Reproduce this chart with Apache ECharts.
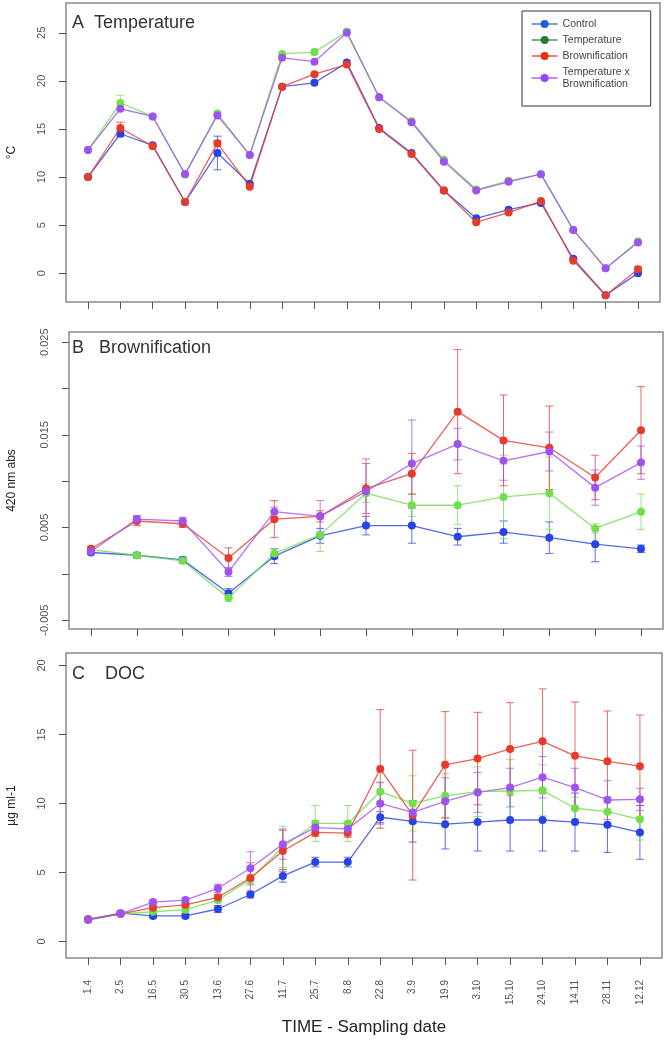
<!DOCTYPE html>
<html>
<head>
<meta charset="utf-8">
<script src="https://cdn.jsdelivr.net/npm/echarts@6/dist/echarts.min.js"></script>
<style>html,body{margin:0;padding:0;background:#fff}#c{width:667px;height:1045px}</style>
</head>
<body>
<div id="c"></div>
<script>
// ---------- DATA ----------
const dates = ['1.4','2.5','16.5','30.5','13.6','27.6','11.7','25.7','8.8','22.8','3.9','19.9','3.10','15.10','24.10','14.11','28.11','12.12'];
const absSamples = ['1','2','3','4','5','6','7','8','9','10','11','12','13'];
const groups = ['Control','Temperature','Brownification','Temperature x\nBrownification'];

// A: Temperature (°C)
const tempControl     = [10.0, 14.5, 13.3, 7.4, 12.5, 9.3, 19.4, 19.8, 21.9, 15.1, 12.5, 8.6, 5.7, 6.6, 7.3, 1.5, -2.3, 0.0];
const tempTemperature = [12.8, 17.7, 16.3, 10.3, 16.6, 12.3, 22.8, 23.0, 25.1, 18.3, 15.8, 11.8, 8.7, 9.6, 10.3, 4.5, 0.5, 3.3];
const tempBrown       = [10.0, 15.1, 13.2, 7.4, 13.5, 9.0, 19.4, 20.7, 21.7, 15.0, 12.4, 8.6, 5.3, 6.3, 7.5, 1.3, -2.3, 0.4];
const tempTxB         = [12.8, 17.1, 16.3, 10.3, 16.4, 12.3, 22.4, 22.0, 25.0, 18.3, 15.7, 11.6, 8.6, 9.5, 10.3, 4.5, 0.5, 3.2];
const tempErrControl     = [0, 0.3, 0, 0, 1.75, 0, 0, 0, 0, 0, 0, 0, 0, 0, 0, 0, 0, 0];
const tempErrTemperature = [0, 0.8, 0, 0, 0.2, 0, 0, 0.3, 0, 0, 0, 0, 0, 0, 0, 0, 0, 0];
const tempErrBrown       = [0, 0.6, 0, 0, 0.3, 0, 0, 0, 0, 0, 0, 0, 0, 0, 0, 0, 0, 0.3];
const tempErrTxB         = [0, 0, 0, 0, 0, 0, 0, 0, 0, 0, 0, 0, 0, 0, 0, 0, 0, 0];

// B: Brownification (420 nm abs)
const absControl     = [0.0023, 0.0020, 0.0015, -0.0021, 0.0019, 0.0041, 0.0052, 0.0052, 0.0040, 0.0045, 0.0039, 0.0032, 0.0027];
const absTemperature = [0.0026, 0.0020, 0.0014, -0.0026, 0.0022, 0.0042, 0.0087, 0.0074, 0.0074, 0.0083, 0.0087, 0.0049, 0.0067];
const absBrown       = [0.0027, 0.0057, 0.0054, 0.0017, 0.0059, 0.0062, 0.0092, 0.0108, 0.0175, 0.0144, 0.0136, 0.0104, 0.0155];
const absTxB         = [0.0024, 0.0059, 0.0057, 0.0002, 0.0067, 0.0062, 0.0089, 0.0119, 0.0140, 0.0122, 0.0132, 0.0093, 0.0120];
const absErrControl     = [0.0002, 0.0003, 0.0003, 0.0005, 0.0008, 0.0008, 0.0010, 0.0019, 0.0009, 0.0012, 0.0017, 0.0019, 0.0004];
const absErrTemperature = [0.0002, 0.0003, 0.0003, 0.0004, 0.0005, 0.0018, 0.0010, 0.0012, 0.0021, 0.0045, 0.0039, 0.0005, 0.0019];
const absErrBrown       = [0.0002, 0.0005, 0.0004, 0.0011, 0.0020, 0.0006, 0.0027, 0.0022, 0.0067, 0.0049, 0.0045, 0.0024, 0.0047];
const absErrTxB         = [0.0002, 0.0004, 0.0004, 0.0005, 0.0005, 0.0017, 0.0035, 0.0047, 0.0017, 0.0021, 0.0021, 0.0019, 0.0018];

// C: DOC (µg ml-1)
const docControl     = [1.6, 2.05, 1.85, 1.85, 2.35, 3.4, 4.75, 5.75, 5.75, 9.0, 8.7, 8.5, 8.65, 8.8, 8.8, 8.65, 8.45, 7.9];
const docTemperature = [1.6, 2.0, 2.15, 2.3, 3.0, 4.5, 6.85, 8.55, 8.55, 10.85, 10.0, 10.55, 10.85, 10.9, 10.95, 9.65, 9.4, 8.85];
const docBrown       = [1.6, 2.0, 2.45, 2.65, 3.2, 4.6, 6.55, 7.9, 7.85, 12.5, 9.15, 12.8, 13.25, 13.95, 14.5, 13.45, 13.05, 12.7];
const docTxB         = [1.55, 2.0, 2.85, 3.0, 3.85, 5.3, 7.05, 8.25, 8.15, 10.0, 9.35, 10.15, 10.8, 11.15, 11.9, 11.15, 10.25, 10.3];
const docErrControl     = [0.1, 0.15, 0.15, 0.15, 0.25, 0.25, 0.45, 0.35, 0.35, 0.4, 1.5, 1.8, 2.1, 2.25, 2.25, 2.1, 2.0, 1.95];
const docErrTemperature = [0.1, 0.1, 0.15, 0.15, 0.2, 0.3, 1.5, 1.3, 1.3, 0.7, 2.0, 1.6, 1.8, 2.3, 1.85, 0.8, 1.0, 1.5];
const docErrBrown       = [0.1, 0.1, 0.15, 0.15, 0.2, 1.1, 1.5, 0.3, 0.3, 4.3, 4.7, 3.85, 3.35, 3.35, 3.8, 3.9, 3.65, 3.7];
const docErrTxB         = [0.1, 0.1, 0.15, 0.15, 0.3, 1.2, 1.1, 0.5, 0.5, 1.5, 0.8, 1.7, 1.45, 1.4, 1.5, 1.4, 1.4, 0.8];

// ---------- STYLE ----------
const colors = ['#2743e6', '#6fdf4a', '#e63a2c', '#a052f0'];
const legendColors = ['#1a5fcf', '#1f7d2e', '#f02a12', '#9a42f7'];
const FONT = 'Liberation Sans, Arial, sans-serif';

const chart = echarts.init(document.getElementById('c'), null, {renderer: 'canvas'});

function lineSeries(idx, gi, values) {
  return {
    name: groups[gi], type: 'line', xAxisIndex: idx, yAxisIndex: idx,
    data: values.map((v, i) => [i + 1, v]),
    symbol: 'circle', symbolSize: 8,
    itemStyle: {color: colors[gi]},
    lineStyle: {color: colors[gi], width: 1.3, opacity: 0.8},
    z: 3 + gi, animation: false, silent: true
  };
}
function errSeries(idx, gi, values, errs) {
  const col = colors[gi];
  return {
    type: 'custom', xAxisIndex: idx, yAxisIndex: idx, silent: true, animation: false, z: 2,
    data: values.map((v, i) => [i + 1, v, errs[i]]).filter(d => d[2] > 0),
    encode: {x: 0, y: 1},
    renderItem: function (params, api) {
      const x = api.value(0), y = api.value(1), e = api.value(2);
      const t = api.coord([x, y + e]), b = api.coord([x, y - e]);
      const w = 4;
      const st = {stroke: col, lineWidth: 1, opacity: 0.75};
      return {type: 'group', children: [
        {type: 'line', shape: {x1: t[0], y1: t[1], x2: b[0], y2: b[1]}, style: st},
        {type: 'line', shape: {x1: t[0] - w, y1: t[1], x2: t[0] + w, y2: t[1]}, style: st},
        {type: 'line', shape: {x1: b[0] - w, y1: b[1], x2: b[0] + w, y2: b[1]}, style: st}
      ]};
    }
  };
}

const panels = [
  {vals: [tempControl, tempTemperature, tempBrown, tempTxB], errs: [tempErrControl, tempErrTemperature, tempErrBrown, tempErrTxB]},
  {vals: [absControl, absTemperature, absBrown, absTxB], errs: [absErrControl, absErrTemperature, absErrBrown, absErrTxB]},
  {vals: [docControl, docTemperature, docBrown, docTxB], errs: [docErrControl, docErrTemperature, docErrBrown, docErrTxB]}
];
const series = [];
panels.forEach((p, idx) => {
  for (let g = 0; g < 4; g++) series.push(errSeries(idx, g, p.vals[g], p.errs[g]));
  for (let g = 0; g < 4; g++) series.push(lineSeries(idx, g, p.vals[g]));
});

const gridStyle = {show: true, borderColor: '#8a8a8a', borderWidth: 1.5, backgroundColor: 'transparent', containLabel: false, outerBoundsMode: 'none'};
const idx18 = dates.map((d, i) => i + 1);
const idx13 = absSamples.map((d, i) => i + 1);
const tickStyle = {lineStyle: {color: '#555', width: 1}, length: 7};
const yLabel = {rotate: 90, fontSize: 11, color: '#555', fontFamily: FONT, margin: 19};
const yName = {fontSize: 12, color: '#222', fontFamily: FONT};

function xAxisCfg(gi, n, showLabels) {
  const ticks = n === 18 ? idx18 : idx13;
  const ext = (n - 1) * 0.04;
  const cfg = {
    type: 'value', gridIndex: gi, min: 1 - ext, max: n + ext,
    axisLine: {show: false, onZero: false},
    axisTick: Object.assign({show: true, customValues: ticks}, tickStyle),
    splitLine: {show: false},
    axisLabel: {show: false}
  };
  if (showLabels) {
    cfg.axisLabel = {show: true, customValues: ticks, rotate: 90, fontSize: 10, color: '#555', fontFamily: FONT, margin: 22,
      formatter: v => dates[Math.round(v) - 1]};
    cfg.name = 'TIME - Sampling date';
    cfg.nameLocation = 'middle';
    cfg.nameGap = 61;
    cfg.nameTextStyle = {fontSize: 17, color: '#222', fontFamily: FONT};
  }
  return cfg;
}

const option = {
  animation: false,
  backgroundColor: '#fff',
  textStyle: {fontFamily: FONT},
  title: [
    {text: 'A  Temperature', left: 72, top: 14, padding: 0, textStyle: {fontSize: 18, fontWeight: 'normal', color: '#333', fontFamily: FONT}},
    {text: 'B   Brownification', left: 72, top: 339, padding: 0, textStyle: {fontSize: 18, fontWeight: 'normal', color: '#333', fontFamily: FONT}},
    {text: 'C    DOC', left: 72, top: 665, padding: 0, textStyle: {fontSize: 18, fontWeight: 'normal', color: '#333', fontFamily: FONT}}
  ],
  legend: {
    orient: 'vertical', left: 522, top: 11,
    padding: [7, 21, 16, 9], itemGap: 4, itemWidth: 26, itemHeight: 10,
    borderColor: '#333', borderWidth: 1, backgroundColor: '#fff',
    selectedMode: false,
    textStyle: {fontSize: 10.5, color: '#444', fontFamily: FONT, lineHeight: 12},
    data: groups.map((g, i) => ({name: g, itemStyle: {color: legendColors[i]}, lineStyle: {color: legendColors[i], width: 1.2, opacity: 1}}))
  },
  grid: [
    Object.assign({left: 66, top: 3, width: 594, height: 299}, gridStyle),
    Object.assign({left: 69, top: 332, width: 594, height: 297}, gridStyle),
    Object.assign({left: 66, top: 653, width: 596, height: 305}, gridStyle)
  ],
  xAxis: [xAxisCfg(0, 18, false), xAxisCfg(1, 13, false), xAxisCfg(2, 18, true)],
  yAxis: [
    {type: 'value', gridIndex: 0, min: -3.0, max: 28.1,
      axisLine: {show: false, onZero: false}, splitLine: {show: false},
      axisTick: Object.assign({show: true, customValues: [0, 5, 10, 15, 20, 25]}, tickStyle),
      axisLabel: Object.assign({customValues: [0, 5, 10, 15, 20, 25]}, yLabel),
      name: '°C', nameLocation: 'middle', nameGap: 48, nameRotate: 90, nameTextStyle: yName},
    {type: 'value', gridIndex: 1, min: -0.00596, max: 0.0261,
      axisLine: {show: false, onZero: false}, splitLine: {show: false},
      axisTick: Object.assign({show: true, customValues: [-0.005, 0, 0.005, 0.01, 0.015, 0.02, 0.025]}, tickStyle),
      axisLabel: Object.assign({customValues: [-0.005, 0.005, 0.015, 0.025], formatter: v => v.toFixed(3)}, yLabel),
      name: '420 nm abs', nameLocation: 'middle', nameGap: 51, nameRotate: 90, nameTextStyle: yName},
    {type: 'value', gridIndex: 2, min: -1.2, max: 20.9,
      axisLine: {show: false, onZero: false}, splitLine: {show: false},
      axisTick: Object.assign({show: true, customValues: [0, 5, 10, 15, 20]}, tickStyle),
      axisLabel: Object.assign({customValues: [0, 5, 10, 15, 20]}, yLabel),
      name: 'µg ml-1', nameLocation: 'middle', nameGap: 48, nameRotate: 90, nameTextStyle: yName}
  ],
  series: series
};
chart.setOption(option);
</script>
</body>
</html>
